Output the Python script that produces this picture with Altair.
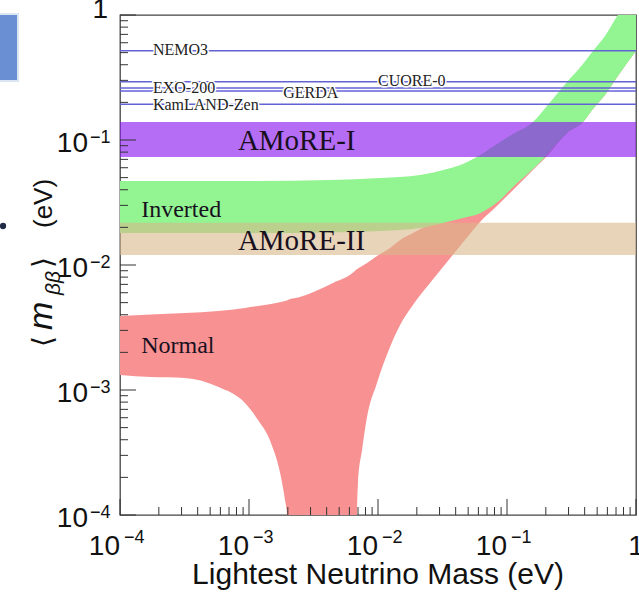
import altair as alt
import pandas as pd

# ---------------- data ----------------
# Normal hierarchy band (lightest mass, upper edge, lower edge) in eV
red_mass = [1.0e-4, 1.74e-4, 3.19e-4, 5.75e-4, 9.3e-4, 1.175e-3, 1.48e-3, 1.77e-3, 1.90e-3, 1.97e-3,
            2.0e-3, 2.48e-3, 4.48e-3, 6.75e-3, 6.87e-3, 7.0e-3, 7.52e-3, 8.22e-3, 9.82e-3, 0.01239,
            0.01484, 0.01866, 0.0253, 0.0343, 0.0472, 0.0618, 0.0835, 0.1115, 0.1507, 0.204,
            0.292, 0.388, 0.464, 0.575, 0.724, 1.0]
red_upper = [0.00391, 0.00402, 0.00413, 0.00429, 0.00453, 0.0047, 0.00488, 0.00506, 0.00516, 0.0052,
             0.00525, 0.00555, 0.00718, 0.00912, 0.00929, 0.00938, 0.00982, 0.01038, 0.0118, 0.01368,
             0.01585, 0.018, 0.0213, 0.0251, 0.0265, 0.0302, 0.0363, 0.0453, 0.0597, 0.0832,
             0.12, 0.15, 0.19, 0.25, 0.35, 0.525]
red_lower = [0.00132, 0.00127, 0.00125, 0.00106, 7.87e-4, 5.75e-4, 3.77e-4, 2.01e-4, 1.32e-4, 1.02e-4,
             1e-6, 1e-6, 1e-6, 1e-6, 1.02e-4, 1.8e-4, 3.31e-4, 6.08e-4, 1.14e-3, 2.21e-3,
             3.31e-3, 4.79e-3, 7.18e-3, 0.01057, 0.01585, 0.0221, 0.0296, 0.0398, 0.0545, 0.0745,
             0.1138, 0.139, 0.177, 0.229, 0.325, 0.515]

# Inverted hierarchy band
green_mass = [1e-4, 1.02e-3, 4.25e-3, 0.01038, 0.0212, 0.0343, 0.0456, 0.0618, 0.0883, 0.1115,
              0.159, 0.204, 0.292, 0.388, 0.464, 0.575, 0.724, 1.0]
green_upper = [0.047, 0.047, 0.0479, 0.0497, 0.0525, 0.0586, 0.0643, 0.0759, 0.0964, 0.1117,
               0.139, 0.187, 0.291, 0.406, 0.515, 0.679, 1.0, 1.53]
green_lower = [0.018, 0.018, 0.0182, 0.0187, 0.0198, 0.0221, 0.0238, 0.026, 0.0331, 0.0421,
               0.0586, 0.0759, 0.1138, 0.139, 0.177, 0.229, 0.325, 0.515]

# AMoRE sensitivity bands
amore_names = ["AMoRE-I", "AMoRE-II"]
amore_hi = [0.139, 0.0218]
amore_lo = [0.0731, 0.0120]
amore_colors = ["#8914f0", "#d9b78a"]
amore_opacity = [0.62, 0.6]

# Experimental limits (horizontal lines) and their labels
exp_names = ["NEMO3", "CUORE-0", "EXO-200", "GERDA", "KamLAND-Zen"]
exp_limit = [0.518, 0.293, 0.261, 0.247, 0.193]
exp_label_mass = [1.80e-4, 1.0e-2, 1.80e-4, 1.84e-3, 1.80e-4]
exp_label_y = [0.479, 0.270, 0.236, 0.217, 0.174]

# Region labels
region_text = ["AMoRE-I", "AMoRE-II", "Inverted", "Normal"]
region_mass = [8.2e-4, 8.2e-4, 1.46e-4, 1.46e-4]
region_y = [0.0832, 0.0132, 0.0242, 0.00198]
region_size = [29, 29, 24, 24]

# Axes
domain_min, domain_max = 1e-4, 1.0
decades = [1e-4, 1e-3, 1e-2, 1e-1, 1.0]
decade_exp = ["−4", "−3", "−2", "−1", ""]
minor_mult = [2, 3, 4, 5, 6, 7, 8, 9]

# ---------------- build tables ----------------
W, H = 516, 500
red_df = pd.DataFrame({"m": red_mass, "up": red_upper, "lo": red_lower})
green_df = pd.DataFrame({"m": green_mass, "up": green_upper, "lo": green_lower})
band_df = pd.DataFrame({"name": amore_names, "hi": amore_hi, "lo": amore_lo,
                        "c": amore_colors, "op": amore_opacity,
                        "x0": domain_min, "x1": domain_max})
exp_df = pd.DataFrame({"name": exp_names, "lim": exp_limit, "lx": exp_label_mass,
                       "ly": exp_label_y, "x0": domain_min, "x1": domain_max})
reg_df = pd.DataFrame({"t": region_text, "m": region_mass, "y": region_y, "s": region_size})
major_df = pd.DataFrame({"t": decades})
minor_df = pd.DataFrame({"t": [d * k for d in decades[:-1] for k in minor_mult]})
lab_df = pd.DataFrame({"t": decades[:-1], "e": decade_exp[:-1], "b": ["10"] * 4})
one_df = pd.DataFrame({"t": [decades[-1]], "b": ["1"]})

xs = alt.Scale(type="log", domain=[domain_min, domain_max], nice=False)
ys = alt.Scale(type="log", domain=[domain_min, domain_max], nice=False)
X = lambda f: alt.X(f, type="quantitative", scale=xs, axis=None)
Y = lambda f: alt.Y(f, type="quantitative", scale=ys, axis=None)

SANS = "Liberation Sans"
SERIF = "Liberation Serif"

red = alt.Chart(red_df).mark_area(color="#f89292", clip=True, interpolate="monotone").encode(
    x=X("m"), y=Y("up"), y2="lo")
green = alt.Chart(green_df).mark_area(color="#92f592", clip=True, interpolate="monotone").encode(
    x=X("m"), y=Y("up"), y2="lo")
bands = alt.Chart(band_df).mark_rect(clip=True).encode(
    x=X("x0"), x2="x1", y=Y("hi"), y2="lo",
    color=alt.Color("c:N", scale=None), opacity=alt.Opacity("op:Q", scale=None))
lines = alt.Chart(exp_df).mark_rule(color="#6262d4", strokeWidth=1.5, clip=True).encode(
    x=X("x0"), x2="x1", y=Y("lim"))
halo = alt.Chart(exp_df).mark_text(font=SERIF, fontSize=16, align="left", baseline="alphabetic",
                                   stroke="white", strokeWidth=3, fill="white").encode(
    x=X("lx"), y=Y("ly"), text="name:N")
exp_txt = alt.Chart(exp_df).mark_text(font=SERIF, fontSize=16, align="left", baseline="alphabetic",
                                      color="#222222").encode(
    x=X("lx"), y=Y("ly"), text="name:N")
reg_txt = alt.Chart(reg_df).mark_text(font=SERIF, align="left", baseline="alphabetic",
                                      color="#18101e").encode(
    x=X("m"), y=Y("y"), text="t:N", size=alt.Size("s:Q", scale=None))

# ticks pointing inward
xmaj = alt.Chart(major_df).mark_rule(color="#333333", strokeWidth=1).encode(
    x=X("t"), y=alt.value(H), y2=alt.value(H - 16))
xmin = alt.Chart(minor_df).mark_rule(color="#333333", strokeWidth=1).encode(
    x=X("t"), y=alt.value(H), y2=alt.value(H - 8))
ymaj = alt.Chart(major_df).mark_rule(color="#333333", strokeWidth=1).encode(
    y=Y("t"), x=alt.value(0), x2=alt.value(16))
ymin = alt.Chart(minor_df).mark_rule(color="#333333", strokeWidth=1).encode(
    y=Y("t"), x=alt.value(0), x2=alt.value(8))

# tick labels (base and exponent)
xl_base = alt.Chart(lab_df).mark_text(font=SANS, fontSize=28, align="right", baseline="alphabetic",
                                      dx=0, color="#111").encode(
    x=X("t"), y=alt.value(H + 40), text="b:N")
xl_exp = alt.Chart(lab_df).mark_text(font=SANS, fontSize=18, align="left", baseline="alphabetic",
                                     dx=4, color="#111").encode(
    x=X("t"), y=alt.value(H + 28), text="e:N")
xl_one = alt.Chart(one_df).mark_text(font=SANS, fontSize=28, align="center", baseline="alphabetic",
                                     color="#111").encode(
    x=X("t"), y=alt.value(H + 40), text="b:N")
yl_base = alt.Chart(lab_df).mark_text(font=SANS, fontSize=28, align="right", baseline="alphabetic",
                                      dy=12, color="#111").encode(
    y=Y("t"), x=alt.value(-32), text="b:N")
yl_exp = alt.Chart(lab_df).mark_text(font=SANS, fontSize=18, align="left", baseline="alphabetic",
                                     dy=3, color="#111").encode(
    y=Y("t"), x=alt.value(-30), text="e:N")
yl_one = alt.Chart(one_df).mark_text(font=SANS, fontSize=28, align="right", baseline="alphabetic",
                                     dy=3, color="#111").encode(
    y=Y("t"), x=alt.value(-12), text="b:N")

# axis titles
one = alt.Data(values=[{}])
xtitle = alt.Chart(one).mark_text(text="Lightest Neutrino Mass (eV)", font=SANS, fontSize=30,
                                  align="center", baseline="alphabetic", color="#111").encode(
    x=alt.value(W / 2), y=alt.value(H + 69))
yt1 = alt.Chart(one).mark_text(text="⟨", font="DejaVu Sans", fontSize=28, angle=270, align="left",
                               baseline="alphabetic", color="#111").encode(x=alt.value(-68), y=alt.value(332))
yt2 = alt.Chart(one).mark_text(text="m", font=SANS, fontStyle="italic", fontSize=34, angle=270,
                               align="left", baseline="alphabetic", color="#111").encode(
    x=alt.value(-68), y=alt.value(315))
yt3 = alt.Chart(one).mark_text(text="ββ", font=SANS, fontStyle="italic", fontSize=21, angle=270,
                               align="left", baseline="alphabetic", color="#111").encode(
    x=alt.value(-60), y=alt.value(280))
yt4 = alt.Chart(one).mark_text(text="⟩", font="DejaVu Sans", fontSize=28, angle=270, align="left",
                               baseline="alphabetic", color="#111").encode(x=alt.value(-68), y=alt.value(253))
yt5 = alt.Chart(one).mark_text(text="(eV)", font=SANS, fontSize=26, angle=270, align="left",
                               baseline="alphabetic", color="#111").encode(x=alt.value(-68), y=alt.value(213))

# slide artefacts around the figure
slide_box = alt.Chart(one).mark_rect(fill="#6a8fd2", stroke="#dce5f4", strokeWidth=2).encode(
    x=alt.value(-121), x2=alt.value(-102), y=alt.value(-1), y2=alt.value(66))
bullet = alt.Chart(one).mark_point(filled=True, size=40, color="#1f2a44", opacity=1).encode(
    x=alt.value(-117), y=alt.value(211))

chart = alt.layer(
    red, green, bands, lines, halo, exp_txt, reg_txt,
    xmaj, xmin, ymaj, ymin,
    xl_base, xl_exp, xl_one, yl_base, yl_exp, yl_one,
    xtitle, yt1, yt2, yt3, yt4, yt5, slide_box, bullet,
).properties(
    width=W, height=H,
    padding={"left": 120, "top": 15, "right": 3, "bottom": 91},
    autosize="none",
).configure_view(stroke="#444444", strokeWidth=1.3)

chart.save("out.html", embed_options={"renderer": "svg", "actions": False})
